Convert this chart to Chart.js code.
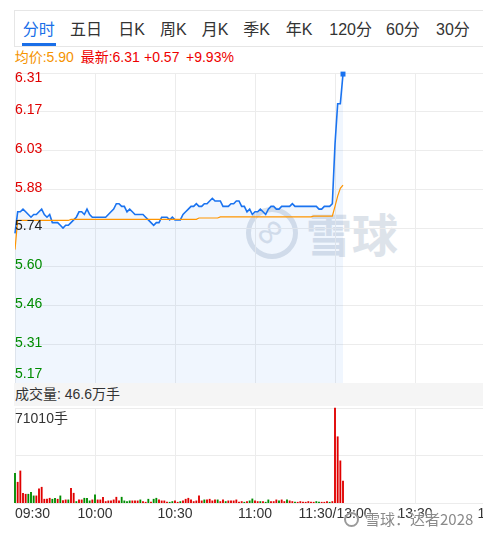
<!DOCTYPE html>
<html>
<head>
<meta charset="utf-8">
<script src="https://cdn.jsdelivr.net/npm/chart.js@4.4.1/dist/chart.umd.min.js"></script>
<style>
  html, body { margin: 0; padding: 0; background: #fff; }
  body {
    width: 483px; height: 536px; overflow: hidden; position: relative;
    font-family: "Liberation Sans", "Noto Sans CJK SC", sans-serif; color: #333;
  }
  .abs { position: absolute; white-space: nowrap; }
  #tabs { left: 14px; top: 10px; width: 480px; height: 35px; border: 1px solid #e6e6e6; }
  .tab { position: absolute; top: 9px; font-size: 16px; line-height: 20px; color: #333; }
  .tab.on { color: #1a6fe8; }
  #underline { position: absolute; left: 7px; top: 32px; width: 34px; height: 3px; background: #1a6fe8; }
  .legend { top: 49px; font-size: 14px; line-height: 16px; }
  #price { left: 0; top: 60px; z-index: 1; }
  #vol { left: 0; top: 395px; z-index: 1; }
  #band { left: 14px; top: 383px; width: 470px; height: 23px; background: #f5f5f5; z-index: 2;
          font-size: 14px; line-height: 23px; padding-left: 1px; color: #333; }
  #maxvol { left: 15px; top: 410px; font-size: 14px; line-height: 16px; z-index: 2; color: #333; }
  #wm { left: 246px; top: 205px; z-index: 0; color: #dde3ea; }
  #wm .ring { position: absolute; left: 0; top: 2px; width: 42px; height: 42px; border: 5px solid #dde3ea; border-radius: 50%; }
  #wm .inf { position: absolute; left: 9px; top: 4px; font-size: 38px; line-height: 44px; transform: rotate(-45deg); }
  #wm .txt { position: absolute; left: 60px; top: 0; font-size: 46px; line-height: 54px; font-weight: bold;
             font-family: "Noto Sans CJK SC", sans-serif; }
  #wm2 { left: 344px; top: 509px; z-index: 3; font-size: 15px; line-height: 20px; color: #8a8a8a;
         font-family: "Noto Sans CJK SC", sans-serif;
         text-shadow: 0 0 2px #fff, 0 0 2px #fff, 0 0 2px #fff; }
  #wm2 .dot { display: inline-block; width: 11px; height: 11px; border: 2px solid #9a9a9a; border-radius: 50%;
              vertical-align: -2px; margin-right: 6px; }
</style>
</head>
<body>
<div id="tabs" class="abs">
  <span class="tab on" style="left:7.7px">分时</span>
  <span class="tab" style="left:55px">五日</span>
  <span class="tab" style="left:103.3px">日K</span>
  <span class="tab" style="left:145px">周K</span>
  <span class="tab" style="left:186.7px">月K</span>
  <span class="tab" style="left:228.3px">季K</span>
  <span class="tab" style="left:270.7px">年K</span>
  <span class="tab" style="left:314.3px">120分</span>
  <span class="tab" style="left:371px">60分</span>
  <span class="tab" style="left:421px">30分</span>
  <div id="underline"></div>
</div>
<span class="abs legend" style="left:14.7px;color:#f59300">均价:5.90</span>
<span class="abs legend" style="left:80.7px;color:#e00">最新:6.31</span>
<span class="abs legend" style="left:144px;color:#e00">+0.57</span>
<span class="abs legend" style="left:186px;color:#e00">+9.93%</span>

<div id="wm" class="abs"><div class="ring"></div><div class="inf">∞</div><div class="txt">雪球</div></div>

<canvas id="price" class="abs" width="680" height="335"></canvas>
<div id="band" class="abs">成交量: 46.6万手</div>
<div id="maxvol" class="abs">71010手</div>
<canvas id="vol" class="abs" width="680" height="141"></canvas>
<div id="wm2" class="abs"><span class="dot"></span>雪球：达者2028</div>

<script>
const timeLabels = ['09:30', '10:00', '10:30', '11:00', '11:30/13:00', '13:30', '14:00', '14:30', '15:00'];
const priceTickValues = [5.166, 5.3095, 5.453, 5.5965, 5.74, 5.8835, 6.027, 6.1705, 6.314];
const priceTickLabels = ['5.17', '5.31', '5.46', '5.60', '5.74', '5.88', '6.03', '6.17', '6.31'];
const prevClose = 5.74;
const volMax = 71010;

// one value per minute from 09:30
const price = [
  5.72, 5.80, 5.80, 5.81, 5.80, 5.79, 5.78, 5.79, 5.79, 5.80,
  5.81, 5.79, 5.78, 5.79, 5.76, 5.76, 5.76, 5.75, 5.74, 5.75,
  5.75, 5.76, 5.77, 5.78, 5.80, 5.80, 5.79, 5.81, 5.79, 5.78,
  5.78, 5.78, 5.78, 5.78, 5.78, 5.79, 5.80, 5.81, 5.83, 5.83,
  5.82, 5.82, 5.80, 5.81, 5.80, 5.79, 5.79, 5.79, 5.79, 5.78,
  5.77, 5.76, 5.75, 5.76, 5.76, 5.78, 5.78, 5.78, 5.77, 5.78,
  5.77, 5.77, 5.77, 5.79, 5.80, 5.81, 5.82, 5.82, 5.83, 5.82,
  5.82, 5.83, 5.83, 5.84, 5.85, 5.84, 5.84, 5.84, 5.82, 5.82,
  5.82, 5.83, 5.83, 5.84, 5.84, 5.82, 5.82, 5.80, 5.81, 5.79,
  5.80, 5.80, 5.81, 5.80, 5.79, 5.81, 5.82, 5.82, 5.81, 5.81,
  5.82, 5.82, 5.82, 5.82, 5.83, 5.82, 5.82, 5.82, 5.82, 5.82,
  5.82, 5.82, 5.82, 5.82, 5.81, 5.81, 5.82, 5.82, 5.82, 5.83,
  6.05, 6.20, 6.20, 6.31
];

const avgPrice = [
  5.660, 5.768, 5.768, 5.768, 5.768, 5.768, 5.768, 5.768, 5.768, 5.768,
  5.768, 5.768, 5.768, 5.768, 5.768, 5.768, 5.768, 5.768, 5.768, 5.768,
  5.768, 5.772, 5.772, 5.772, 5.772, 5.772, 5.772, 5.772, 5.772, 5.772,
  5.772, 5.772, 5.772, 5.772, 5.772, 5.772, 5.772, 5.772, 5.772, 5.772,
  5.772, 5.772, 5.772, 5.772, 5.772, 5.772, 5.772, 5.772, 5.772, 5.772,
  5.772, 5.772, 5.772, 5.772, 5.772, 5.772, 5.772, 5.772, 5.772, 5.772,
  5.772, 5.772, 5.772, 5.772, 5.772, 5.772, 5.772, 5.772, 5.772, 5.777,
  5.777, 5.777, 5.777, 5.777, 5.777, 5.777, 5.777, 5.781, 5.781, 5.781,
  5.781, 5.781, 5.781, 5.781, 5.781, 5.781, 5.781, 5.781, 5.781, 5.781,
  5.781, 5.781, 5.781, 5.781, 5.781, 5.781, 5.781, 5.781, 5.781, 5.781,
  5.781, 5.781, 5.781, 5.781, 5.781, 5.781, 5.781, 5.781, 5.781, 5.781,
  5.781, 5.781, 5.784, 5.784, 5.784, 5.784, 5.784, 5.784, 5.784, 5.784,
  5.820, 5.858, 5.887, 5.899
];

const volume = [
  22350, 15650, 24070, 7450, 6700, 6700, 8200, 5460, 5460, 10680,
  11920, 2980, 2980, 3720, 2980, 3720, 2980, 5460, 2000, 2480,
  2480, 11170, 7450, 1240, 2480, 2480, 3720, 3720, 1740, 2480,
  6210, 2480, 2480, 4470, 1240, 1740, 1740, 2480, 4470, 1740,
  4470, 1740, 1240, 1740, 1740, 1740, 1740, 2480, 1240, 745,
  2980, 745, 2980, 3720, 2480, 1740, 1740, 745, 745, 1240,
  1740, 745, 1240, 1740, 2980, 3720, 2480, 1240, 1740, 5460,
  1740, 2480, 2480, 2980, 1740, 2480, 2480, 1240, 2480, 1240,
  1740, 1740, 1740, 2480, 745, 1240, 745, 1240, 1740, 3200,
  1740, 1240, 1240, 1240, 745, 2480, 1240, 1240, 2480, 1740,
  2480, 1240, 2480, 1740, 1240, 745, 745, 1240, 745, 745,
  1240, 745, 745, 1240, 745, 745, 745, 1240, 745, 1240,
  71010, 49560, 31600, 16450
];

// 'u' = red bar, 'd' = green bar
const volDir = [
  'd','u','u','u','u','d','d','d','u','u',
  'u','u','u','u','d','d','u','d','u','u',
  'd','u','u','d','u','u','d','d','d','u',
  'd','u','u','u','u','u','u','u','u','u',
  'd','d','d','d','u','u','u','d','u','u',
  'd','u','d','d','u','u','u','u','d','d',
  'u','u','d','u','u','u','u','u','u','u',
  'u','d','u','u','u','u','d','u','u','d',
  'u','u','u','u','u','u','d','u','d','d',
  'u','u','d','u','d','d','u','u','u','d',
  'u','u','d','u','u','d','u','u','u','u',
  'u','u','u','d','d','u','u','u','d','u',
  'u','u','u','u'
];

const RED = '#e00000';
const GREEN = '#008c00';
const BLUE = '#1a73f0';
const ORANGE = '#ff9500';
const GRID = '#ececec';
const FONT = '"Liberation Sans", "Noto Sans CJK SC", sans-serif';

const priceLabels = {
  id: 'priceLabels',
  afterDraw(chart) {
    const { ctx, chartArea, scales: { y } } = chart;
    ctx.save();
    ctx.font = '14px ' + FONT;
    ctx.textAlign = 'left';
    ctx.textBaseline = 'middle';
    priceTickValues.forEach((v, k) => {
      let py = y.getPixelForValue(v);
      if (k === priceTickValues.length - 1) py += 5;
      else if (k === 0) py -= 9;
      else py -= 1.5;
      ctx.fillStyle = v > prevClose ? RED : v < prevClose ? GREEN : '#222';
      ctx.fillText(priceTickLabels[k], chartArea.left, py);
    });
    ctx.restore();
  }
};

new Chart(document.getElementById('price'), {
  type: 'line',
  data: {
    datasets: [
      {
        data: avgPrice.map((v, i) => ({ x: i, y: v })),
        borderColor: ORANGE,
        borderWidth: 1.2,
        pointRadius: 0,
        tension: 0,
        fill: false,
      },
      {
        data: price.map((v, i) => ({ x: i, y: v })),
        borderColor: BLUE,
        borderWidth: 1.6,
        backgroundColor: 'rgba(26,115,240,0.065)',
        fill: 'start',
        tension: 0,
        clip: false,
        pointStyle: 'rect',
        pointRadius: (ctx) => (ctx.dataIndex === price.length - 1 ? 3.5 : 0),
        pointBackgroundColor: BLUE,
        pointBorderWidth: 0,
      },
    ],
  },
  options: {
    responsive: false,
    animation: false,
    events: [],
    layout: { padding: { left: 15, top: 13, right: 25, bottom: 12 } },
    plugins: { legend: { display: false }, tooltip: { enabled: false } },
    scales: {
      x: {
        type: 'linear', min: 0, max: 240,
        ticks: { stepSize: 30, display: false },
        grid: { color: GRID, drawTicks: false },
        border: { display: false },
      },
      y: {
        min: 5.166, max: 6.314,
        afterBuildTicks: (axis) => { axis.ticks = priceTickValues.map((v) => ({ value: v })); },
        ticks: { display: false },
        grid: { color: GRID, drawTicks: false },
        border: { display: false },
      },
    },
  },
  plugins: [priceLabels],
});

new Chart(document.getElementById('vol'), {
  type: 'bar',
  data: {
    datasets: [{
      data: volume.map((v, i) => ({ x: i, y: v })),
      backgroundColor: volDir.map((d) => (d === 'u' ? RED : GREEN)),
      barThickness: 1.2,
      clip: false,
    }],
  },
  options: {
    responsive: false,
    animation: false,
    events: [],
    layout: { padding: { left: 15, top: 13, right: 25, bottom: 10 } },
    plugins: { legend: { display: false }, tooltip: { enabled: false } },
    scales: {
      x: {
        type: 'linear', min: 0, max: 240, offset: false,
        ticks: {
          stepSize: 30, autoSkip: false, maxRotation: 0, align: 'inner', padding: 3,
          color: '#333', font: { family: FONT, size: 14 },
          callback: (v) => timeLabels[v / 30],
        },
        grid: { color: GRID, drawTicks: false, offset: false },
        border: { display: false },
      },
      y: {
        min: 0, max: volMax,
        afterBuildTicks: (axis) => { axis.ticks = [0, volMax / 2, volMax].map((v) => ({ value: v })); },
        ticks: { display: false },
        grid: { color: GRID, drawTicks: false },
        border: { display: false },
      },
    },
  },
});
</script>
</body>
</html>
